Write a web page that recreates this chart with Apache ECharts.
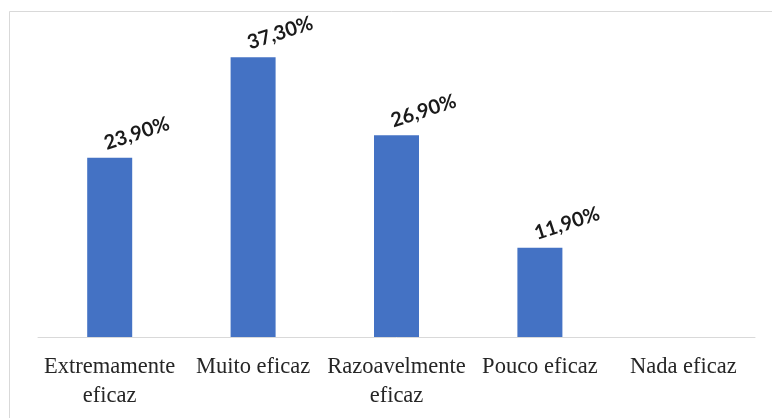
<!DOCTYPE html>
<html>
<head>
<meta charset="utf-8">
<script src="https://cdn.jsdelivr.net/npm/echarts@6/dist/echarts.min.js"></script>
<style>
  html, body { margin: 0; padding: 0; background: #fff; }
  #chart { width: 772px; height: 418px; }
</style>
</head>
<body>
<div id="chart"></div>
<script>
// Avaliação da eficácia (percentual de respostas)
const categories = ['Extremamente\neficaz', 'Muito eficaz', 'Razoavelmente\neficaz', 'Pouco eficaz', 'Nada eficaz'];
const values = [23.9, 37.3, 26.9, 11.9, null];

const fmt = v => v.toFixed(2).replace('.', ',') + '%';

const chart = echarts.init(document.getElementById('chart'), null, { renderer: 'canvas' });
chart.setOption({
  animation: false,
  backgroundColor: '#ffffff',
  graphic: [{
    type: 'rect',
    shape: { x: 9.5, y: 11.5, width: 900, height: 600 },
    style: { fill: 'none', stroke: '#d9d9d9', lineWidth: 1 },
    silent: true
  }],
  grid: { left: 38, right: 17, top: 37, bottom: 81 },
  xAxis: {
    type: 'category',
    data: categories,
    axisLine: { show: true, lineStyle: { color: '#d9d9d9', width: 1 } },
    axisTick: { show: false },
    axisLabel: {
      interval: 0,
      margin: 16,
      fontFamily: 'Liberation Serif',
      fontSize: 22.5,
      lineHeight: 29,
      color: '#262626'
    }
  },
  yAxis: {
    type: 'value',
    min: 0,
    max: 40,
    show: false,
    splitLine: { show: false }
  },
  series: [{
    type: 'bar',
    data: values,
    barWidth: 45,
    itemStyle: { color: '#4472c4' },
    label: {
      show: true,
      position: 'top',
      distance: 5,
      rotate: 18,
      align: 'left',
      verticalAlign: 'bottom',
      offset: [-2, 0],
      fontFamily: 'Lato',
      fontWeight: 'bold',
      fontSize: 20,
      color: '#1a1a1a',
      formatter: p => fmt(p.value)
    }
  }]
});
</script>
</body>
</html>
